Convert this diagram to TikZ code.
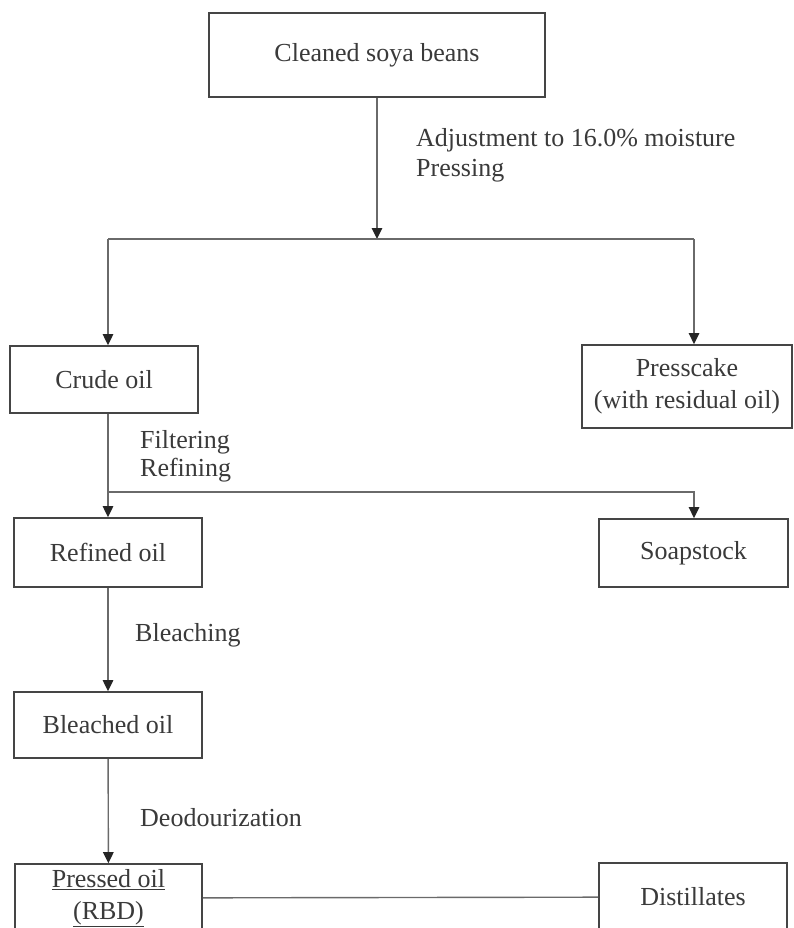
\documentclass[tikz,border=0pt]{standalone}
\usepackage{fontspec}
\setmainfont{Liberation Serif}
\usetikzlibrary{arrows.meta}
\definecolor{txt}{HTML}{3A3A3A}
\definecolor{boxc}{HTML}{454545}
\definecolor{linec}{HTML}{6A6A6A}
\definecolor{tipc}{HTML}{252525}
\begin{document}
\begin{tikzpicture}[x=1pt,y=-1pt,
  font=\fontsize{26}{30}\selectfont, text=txt,
  procbox/.style={draw=boxc, line width=1.8pt, inner sep=0pt, align=center, font=\fontsize{26}{32}\selectfont},
  conn/.style={draw=linec, line width=1.4pt},
  arr/.style={conn, -{Triangle[length=11pt,width=10.5pt,color=tipc]}},
  lbl/.style={anchor=west, align=left, inner sep=0pt}]
\useasboundingbox (0,0) rectangle (793,928);
\clip (0,0) rectangle (793,928);
\fill[white] (0,0) rectangle (793,928);

% boxes
\node[procbox, minimum width=336pt, minimum height=84pt] (cleaned) at (377,55) {Cleaned soya beans};
\node[procbox, minimum width=188pt, minimum height=67pt] (crude) at (104,379.5) {Crude oil};
\node[procbox, minimum width=210pt, minimum height=83pt] (presscake) at (687,386.5) {Presscake\\(with residual oil)};
\node[procbox, minimum width=188pt, minimum height=69pt] (refined) at (108,552.5) {Refined oil};
\node[procbox, minimum width=189pt, minimum height=68pt] (soapstock) at (693.5,553) {Soapstock};
\node[procbox, minimum width=188pt, minimum height=66pt] (bleached) at (108,725) {Bleached oil};
\node[procbox, minimum width=187pt, minimum height=68pt] (pressed) at (108.5,898) {\underline{Pressed oil}\\\underline{(RBD)}};
\node[procbox, minimum width=188pt, minimum height=68pt] (distillates) at (693,897) {Distillates};

% junctions
\coordinate (j1) at (377,239);
\coordinate (jl) at (108,239);
\coordinate (jr) at (694,239);
\coordinate (j2) at (108,492);
\coordinate (j2r) at (694,492);

% connectors
\draw[arr] (cleaned) -- (j1);
\draw[conn] (jl) -- (jr);
\draw[arr] (jl) -- (jl |- crude.north);
\draw[arr] (jr) -- (jr |- presscake.north);
\draw[arr] (crude.south -| j2) -- (j2 |- refined.north);
\draw[arr] (j2) -- (j2r) -- (j2r |- soapstock.north);
\draw[arr] (refined) -- (bleached);
\draw[arr] (bleached) -- (pressed);
\draw[conn] (pressed) -- (distillates);

% labels
\node[lbl] (l1) at (416,155) {Adjustment to 16.0\% moisture\\Pressing};
\node[lbl, font=\fontsize{26}{28}\selectfont] (l2) at (140,456) {Filtering\\Refining};
\node[lbl] (l3) at (135,635) {Bleaching};
\node[lbl] (l4) at (140,818) {Deodourization};
\end{tikzpicture}
\end{document}
